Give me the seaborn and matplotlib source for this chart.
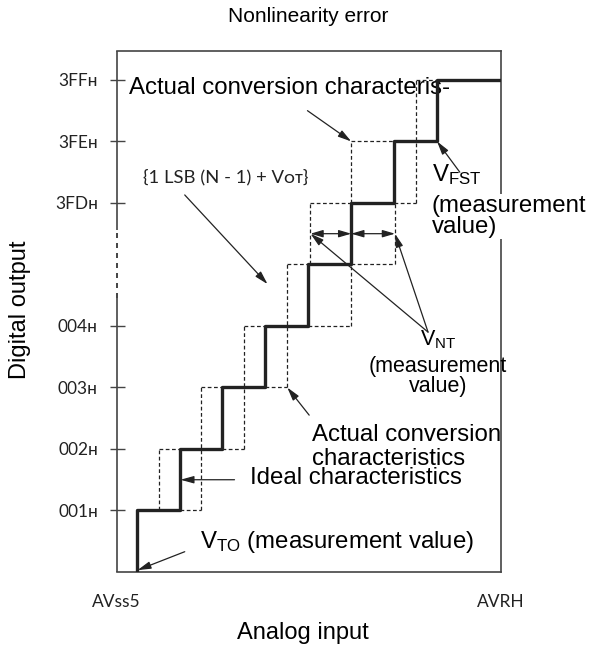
import matplotlib
matplotlib.use("Agg")
import matplotlib.pyplot as plt
import pandas as pd
import seaborn as sns

# ---------------- data ----------------
# ideal characteristic (thick staircase): code transition points (LSB units)
ideal_x = [1, 1, 2, 3, 4, 5, 6, 7, 8, 9.49]
ideal_y = [0, 1, 2, 3, 4, 5, 6, 7, 8, 8]

# actual conversion characteristics (dashed boxes)
dash_h_y = [1, 2, 2, 3, 3, 4, 4, 5, 5, 6, 6, 7, 8]
dash_h_x0 = [2, 1.53, 3, 2.51, 4, 3.49, 5, 4.51, 6, 5.05, 7, 6, 7.51]
dash_h_x1 = [2.51, 2, 3.49, 3, 4.51, 4, 6, 5, 7.02, 6, 7.51, 7, 8]
dash_v_x = [1.53, 2.51, 3.49, 4.51, 5.05, 6, 6, 7.02, 7.51]
dash_v_y0 = [1, 1, 2, 3, 5, 4, 6, 5, 6]
dash_v_y1 = [2, 3, 4, 5, 6, 5, 7, 6, 8]

# measurement arrows (V_NT widths)
meas_y = [5.5, 5.5]
meas_x0 = [5.05, 6.0]
meas_x1 = [6.0, 7.02]

# y tick levels / labels
tick_levels = [1, 2, 3, 4, 6, 7, 8]
tick_labels = ["001\u029c", "002\u029c", "003\u029c", "004\u029c",
               "3FD\u029c", "3FE\u029c", "3FF\u029c"]
x_tick_labels = ["AVss5", "AVRH"]

X_MIN, X_MAX = 0.53, 9.49
Y_MIN, Y_MAX = 0.0, 8.47
GAP_LO, GAP_HI = 4.46, 5.56

# annotation arrows: tail -> tip
arr_tail_x = [4.98, 2.12, 8.53, 7.79, 7.79, 5.02, 3.28, 2.12]
arr_tail_y = [7.50, 6.13, 6.50, 3.90, 3.90, 2.55, 1.50, 0.33]
arr_tip_x = [6.0, 4.05, 8.0, 5.05, 7.02, 4.51, 2.02, 1.02]
arr_tip_y = [7.0, 4.68, 7.0, 5.5, 5.5, 3.0, 1.5, 0.03]

# ---------------- style ----------------
sns.set_theme(style="white")
plt.rcParams["font.family"] = ["Liberation Sans", "DejaVu Sans"]
plt.rcParams["mathtext.fontset"] = "custom"
plt.rcParams["mathtext.rm"] = "Liberation Sans"
plt.rcParams["mathtext.it"] = "Liberation Sans:italic"
plt.rcParams["mathtext.bf"] = "Liberation Sans:bold"

INK = "#222222"
FRAME = "#444444"
MYRIAD = ["Lato", "DejaVu Sans"]

fig = plt.figure(figsize=(5.9, 6.49), dpi=100)
W, H = 590, 649
ax = fig.add_axes([116.5 / W, 1 - 572 / H, (501 - 116.5) / W, (572 - 51) / H])

# thick ideal staircase
ideal_df = pd.DataFrame({"x": ideal_x, "y": ideal_y})
sns.lineplot(data=ideal_df, x="x", y="y", estimator=None, sort=False,
             drawstyle="steps-post", color=INK, lw=2.4, ax=ax, zorder=4)

# dashed segments
rows = []
sid = 0
for y, a, b in zip(dash_h_y, dash_h_x0, dash_h_x1):
    rows += [(sid, a, y), (sid, b, y)]
    sid += 1
for x, a, b in zip(dash_v_x, dash_v_y0, dash_v_y1):
    rows += [(sid, x, a), (sid, x, b)]
    sid += 1
dash_df = pd.DataFrame(rows, columns=["seg", "x", "y"])
sns.lineplot(data=dash_df, x="x", y="y", units="seg", estimator=None,
             sort=False, color=INK, lw=0.9, linestyle=(0, (3, 2)), ax=ax,
             zorder=3)

HEAD = dict(color=INK, lw=0.9, shrinkA=0, shrinkB=0, mutation_scale=10)

# double-headed measurement arrows
for y, a, b in zip(meas_y, meas_x0, meas_x1):
    ax.annotate("", xy=(b, y), xytext=(a, y),
                arrowprops=dict(arrowstyle="<|-|>,head_length=0.75,head_width=0.22",
                                **HEAD))

# annotation arrows
for tx, ty, hx, hy in zip(arr_tail_x, arr_tail_y, arr_tip_x, arr_tip_y):
    ax.annotate("", xy=(hx, hy), xytext=(tx, ty),
                arrowprops=dict(arrowstyle="-|>,head_length=0.8,head_width=0.22",
                                **HEAD))

# axes limits / frame
ax.set_xlim(X_MIN, X_MAX)
ax.set_ylim(Y_MIN, Y_MAX)
ax.set_xlabel("")
ax.set_ylabel("")
for s in ["top", "right", "bottom"]:
    ax.spines[s].set_color(FRAME)
    ax.spines[s].set_linewidth(1.2)
    ax.spines[s].set_visible(True)
ax.spines["left"].set_visible(False)
ax.vlines([X_MIN, X_MIN], [Y_MIN, GAP_HI], [GAP_LO, Y_MAX], colors=FRAME,
          lw=1.2, clip_on=False)
ax.vlines([X_MIN], [GAP_LO], [GAP_HI], colors=INK, lw=1.2,
          linestyles=[(0, (3, 3))], clip_on=False, zorder=6)

ax.set_yticks(tick_levels)
ax.set_yticklabels(tick_labels, fontfamily=MYRIAD, fontsize=12.5, color=INK)
ax.tick_params(axis="y", direction="inout", length=10.8, width=1.0,
               color=FRAME, pad=8.0, left=True)
ax.set_xticks([X_MIN, X_MAX])
ax.set_xticklabels(x_tick_labels, fontfamily=MYRIAD, fontsize=12.5, color=INK)
ax.tick_params(axis="x", length=0, pad=16)
ax.grid(False)

# texts
FS = 17.3
ax.text(0.81, 7.87, "Actual conversion characteris-", fontsize=FS,
        color="black", ha="left", va="center", zorder=2)
ax.text(1.14, 6.42, "{1 LSB (N - 1) + V\u1d0f\u1d1b}", fontfamily=MYRIAD,
        fontsize=13.3, color=INK, ha="left", va="center")
ax.text(7.88, 6.46, r"V$_{\mathrm{FST}}$", fontsize=FS, color="black",
        ha="left", va="center")
ax.text(7.88, 5.78, "(measurement\nvalue)", fontsize=FS, color="black",
        ha="left", va="center", linespacing=0.95, clip_on=False, zorder=5,
        bbox=dict(facecolor="white", edgecolor="none", pad=0.5))
ax.text(8.02, 3.77, r"V$_{\mathrm{NT}}$", fontsize=15.5, color="black",
        ha="center", va="center")
ax.text(8.02, 3.18, "(measurement\nvalue)", fontsize=15.5, color="black",
        ha="center", va="center", linespacing=0.9)
ax.text(5.09, 2.03, "Actual conversion\ncharacteristics", fontsize=FS,
        color="black", ha="left", va="center", linespacing=1.1)
ax.text(3.63, 1.53, "Ideal characteristics", fontsize=FS, color="black",
        ha="left", va="center")
ax.text(2.47, 0.49, r"V$_{\mathrm{TO}}$ (measurement value)", fontsize=FS,
        color="black", ha="left", va="center")

fig.text(308 / W, 1 - 17 / H, "Nonlinearity error", fontsize=15,
         ha="center", va="center", color="black")
fig.text(20 / W, 1 - 310 / H, "Digital output", fontsize=17, rotation=90,
         ha="center", va="center", color="black")
fig.text(303 / W, 1 - 633 / H, "Analog input", fontsize=17,
         ha="center", va="center", color="black")

fig.savefig("out.png", dpi=100, facecolor="white")
